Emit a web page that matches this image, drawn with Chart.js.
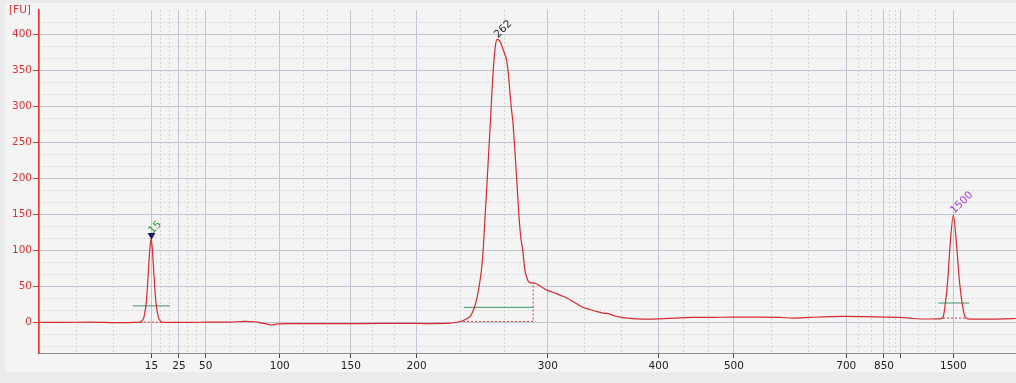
<!DOCTYPE html>
<html><head><meta charset="utf-8">
<script src="https://cdn.jsdelivr.net/npm/chart.js@4.4.1/dist/chart.umd.min.js"></script>
<style>html,body{margin:0;padding:0;background:#ebebeb;overflow:hidden}canvas{display:block}</style>
</head><body>
<canvas id="c" width="1016" height="383"></canvas>
<script>
// ---- data (migration time in s, fluorescence in FU) ----
const timeS = [
  43.00, 44.48, 46.63, 48.78, 49.86, 50.22, 50.36, 50.53, 50.70, 50.86, 50.94, 51.03, 51.12, 51.20, 51.36, 51.54, 51.72, 51.94,
  53.08, 54.52, 56.67, 57.74, 58.46, 58.96, 59.39, 59.68, 60.11, 60.97, 63.12, 65.98, 68.85, 71.00, 72.43, 72.86,
  73.15, 73.44, 73.65, 73.87, 74.01, 74.16, 74.33, 74.44, 74.59, 74.73, 74.84, 74.94, 75.09, 75.23, 75.35, 75.48, 75.59, 75.70, 75.82,
  75.95, 76.09, 76.23, 76.38, 76.50, 76.63, 76.74, 76.84, 76.97, 77.09, 77.24, 77.38, 77.52, 77.65, 77.74, 77.81, 77.95, 78.06,
  78.24, 78.42, 78.60, 78.78, 79.03, 79.37, 79.82, 80.32, 80.82, 81.25, 81.61, 81.97, 82.47, 82.97, 83.47, 83.90, 84.26, 84.62, 85.19, 85.84, 86.77,
  87.49, 88.56, 89.85, 91.07, 92.72, 94.65, 96.09, 97.02, 98.24, 99.67, 100.75, 102.18, 103.76, 104.69, 105.62, 106.84, 107.55,
  107.77, 107.91, 108.11, 108.27, 108.51, 108.75, 108.94, 109.18, 109.35, 109.56, 110.06, 110.78, 111.50, 112.21, 113.00
];
const fluorescence = [
  0.3, 0, 0.5, -0.3, 0, 0.5, 2, 8, 31, 78, 102, 116, 102, 78, 31, 8, 1.5, 0,
  0, 0.3, 0.5, 1.5, 1, -1, -2.5, -3.5, -2, -1.5, -1.5, -1.5, -1.2, -1.5, -1, 0,
  1, 3, 5, 8, 12, 19, 30, 40, 57, 78, 105, 140, 190, 240, 281, 330, 362, 384, 393,
  392, 388, 380, 372, 364, 345, 320, 298, 275, 240, 195, 150, 118, 101, 85, 73, 62, 57,
  55, 55, 54, 52, 49, 45, 42, 38, 34, 29, 25, 21, 18, 15, 13, 11.5, 9, 7.5, 6, 5, 4.5,
  5, 6, 7, 7, 7.5, 7.5, 7, 6, 7, 8, 8.3, 8, 7.5, 7, 5.5, 4.8, 5,
  7, 22, 59, 105, 149, 105, 59, 22, 8, 5, 4.7, 4.5, 4.7, 5, 5.5
];
// ladder (x-axis) ticks: time of each ladder size, and its label
const ladderTimes  = [43.00, 51.06, 53.03, 54.95, 60.25, 65.34, 70.05, 79.46, 87.39, 92.79, 100.84, 103.54, 104.76, 108.51];
const ladderLabels = ['', '15', '25', '50', '100', '150', '200', '300', '400', '500', '700', '850', '', '1500'];
const ladderMarked = [false, true, true, true, true, true, true, true, true, true, true, true, true, true];
// y-axis labelled values
const yLabelValues = [0, 50, 100, 150, 200, 250, 300, 350, 400];
// peak annotations
const peakNames = ['15', '262', '1500'];
const peakTimes = [51.06, 75.82, 108.51];
const peakLabelFU = [121, 393, 149];
const markerTimes = [51.06];
const markerFU = [121];
// peak width (green) lines
const widthStart = [49.72, 73.44, 107.43];
const widthEnd   = [52.37, 78.41, 109.65];
const widthFU    = [23, 21, 27];
// peak baselines (red dashed)
const baseStart = [50.22, 73.10, 107.77];
const baseEnd   = [51.80, 78.41, 109.42];
const baseFU    = [0.5, 1.4, 6];
const baseRiseFU = [null, 55, null];

// ---- styles ----
const RED = 'rgb(222,52,52)';
const TRACE = 'rgb(214,42,48)';
const GREEN = 'rgb(60,150,100)';
const labelColors = ['rgb(50,150,50)', 'rgb(30,30,30)', 'rgb(160,60,220)'];
const FONT = 'DejaVu Sans';

const Y_MIN = -42.4, Y_MAX = 433.7;
const X_MIN = 43, X_MAX = 113;

// grid ticks (majors = ladder, minors = thirds between them)
const xTickObjs = [];
for (let i = 0; i < ladderTimes.length; i++) {
  xTickObjs.push({value: ladderTimes[i], major: true, lbl: ladderLabels[i], mark: ladderMarked[i]});
  if (i < ladderTimes.length - 1) {
    const a = ladderTimes[i], b = ladderTimes[i + 1];
    xTickObjs.push({value: a + (b - a) / 3, major: false, lbl: ''});
    xTickObjs.push({value: a + 2 * (b - a) / 3, major: false, lbl: ''});
  }
}
const yTickObjs = [];
const yStep = (yLabelValues[1] - yLabelValues[0]) / 3;
for (let i = -2; i <= 25; i++) {
  const v = i * yStep;
  const major = i % 3 === 0 && yLabelValues.includes(Math.round(v));
  yTickObjs.push({value: v, major: major, lbl: major ? String(Math.round(v)) : ''});
}

const traceData = timeS.map((t, i) => ({x: t, y: fluorescence[i]}));
const datasets = [];
datasets.push({
  data: traceData, borderColor: TRACE, borderWidth: 1.2, pointRadius: 0, pointHoverRadius: 0,
  cubicInterpolationMode: 'monotone', order: 0
});
for (let i = 0; i < widthStart.length; i++) {
  datasets.push({data: [{x: widthStart[i], y: widthFU[i]}, {x: widthEnd[i], y: widthFU[i]}],
    borderColor: GREEN, borderWidth: 1, pointRadius: 0, pointHoverRadius: 0, order: 2});
  const bd = [{x: baseStart[i], y: baseFU[i]}, {x: baseEnd[i], y: baseFU[i]}];
  if (baseRiseFU[i] !== null) bd.push({x: baseEnd[i], y: baseRiseFU[i]});
  datasets.push({data: bd, borderColor: 'rgb(230,60,60)', borderWidth: 1, borderDash: [2, 2],
    pointRadius: 0, pointHoverRadius: 0, order: 1});
}
datasets.push({
  type: 'scatter', data: markerTimes.map((t, i) => ({x: t, y: markerFU[i]})),
  pointStyle: 'triangle', rotation: 180, pointRadius: 4.5, pointHoverRadius: 4.5, backgroundColor: 'rgb(25,25,100)',
  borderColor: 'rgb(25,25,100)', borderWidth: 0, order: -1
});

const bgPlugin = {
  id: 'bg',
  beforeDraw(chart) {
    const ctx = chart.ctx;
    ctx.save();
    ctx.fillStyle = '#ebebeb';
    ctx.fillRect(0, 0, chart.width, chart.height);
    ctx.fillStyle = '#f4f4f4';
    ctx.fillRect(5, 3, chart.width - 5, 369);
    ctx.restore();
  },
  afterDraw(chart) {
    const ctx = chart.ctx;
    ctx.save();
    ctx.fillStyle = RED;
    ctx.font = '10.5px "' + FONT + '"';
    ctx.textBaseline = 'middle';
    ctx.textAlign = 'left';
    ctx.fillText('[FU]', 9, 10.5);
    const xs = chart.scales.x, ys = chart.scales.y;
    for (let i = 0; i < peakNames.length; i++) {
      const px = xs.getPixelForValue(peakTimes[i]);
      const py = ys.getPixelForValue(peakLabelFU[i]);
      ctx.save();
      ctx.translate(px + 1, py - 1);
      ctx.rotate(-Math.PI / 4);
      ctx.fillStyle = labelColors[i];
      ctx.textBaseline = 'alphabetic';
      ctx.fillText(peakNames[i], 0, 0);
      ctx.restore();
    }
    ctx.restore();
  }
};

new Chart(document.getElementById('c'), {
  type: 'line',
  data: {datasets},
  options: {
    responsive: false, animation: false, events: [],
    layout: {autoPadding: false, padding: {top: 10, left: 0, right: 0, bottom: 0}},
    plugins: {legend: {display: false}, tooltip: {enabled: false}},
    scales: {
      x: {
        type: 'linear', min: X_MIN, max: X_MAX,
        afterBuildTicks: s => { s.ticks = xTickObjs.map(o => Object.assign({}, o)); },
        afterFit: s => { s.height = 30; s.paddingLeft = 0; s.paddingRight = 0; },
        grid: {
          color: c => (c.tick && c.tick.major) ? '#c3c3d3' : '#d6d6d6',
          lineWidth: 1,
          tickColor: c => (c.tick && c.tick.major && c.tick.mark) ? '#444' : 'rgba(0,0,0,0)',
          tickLength: 5
        },
        border: {color: '#8c8c8c', width: 1, dash: c => (c.tick && !c.tick.major) ? [2, 2] : []},
        ticks: {
          color: '#222', font: {family: FONT, size: 10.5}, padding: 2,
          autoSkip: false, maxRotation: 0, minRotation: 0,
          callback: (v, i, t) => t[i].lbl || ''
        }
      },
      y: {
        type: 'linear', min: Y_MIN, max: Y_MAX,
        afterBuildTicks: s => { s.ticks = yTickObjs.map(o => Object.assign({}, o)); },
        afterFit: s => { s.width = 39; s.paddingTop = 0; s.paddingBottom = 0; },
        grid: {
          color: c => (c.tick && c.tick.major) ? '#c3c3d3' : '#d6d6d6',
          lineWidth: 1,
          tickColor: c => (c.tick && c.tick.major) ? RED : 'rgba(0,0,0,0)',
          tickLength: 6
        },
        border: {color: RED, width: 1.5, dash: c => (c.tick && !c.tick.major) ? [2, 2] : []},
        ticks: {
          color: RED, font: {family: FONT, size: 10.5}, padding: 1, autoSkip: false,
          callback: (v, i, t) => t[i].lbl || ''
        }
      }
    }
  },
  plugins: [bgPlugin]
});
</script>
</body></html>
